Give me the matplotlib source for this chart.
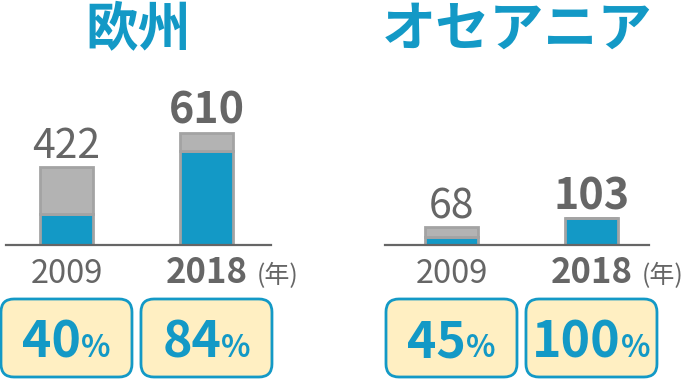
import matplotlib
matplotlib.use("Agg")
import matplotlib.pyplot as plt
from matplotlib.patches import FancyBboxPatch

plt.rcParams["font.family"] = ["Noto Sans CJK JP", "DejaVu Sans"]

# --- datos ---
regiones = ["欧州", "オセアニア"]
anios = ["2009", "2018"]
total_eu = [422, 610]
total_oc = [68, 103]
pct_eu = [40, 84]
pct_oc = [45, 100]

AZUL = "#1399C6"
GRIS = "#B3B3B3"
BORDE = "#A3A3A3"
TEXTO = "#666666"
CAJA = "#FFEFC2"

fig = plt.figure(figsize=(6.9, 3.83), dpi=100)
W, H = 690, 383

# axes de barras (pixeles: izquierda, ancho, xlim, ylim superior, centro titulo, tamaño titulo)
paneles = [
    (regiones[0], total_eu, pct_eu, 6, 265, (-0.432, 1.461), 650, 138, 38),
    (regiones[1], total_oc, pct_oc, 385, 264, (-0.475, 1.411), 460, 517, 39),
]
base_px = 138      # linea base desde abajo
alto_px = 119.6

# overlay en pixeles para las cajas de %
ov = fig.add_axes([0, 0, 1, 1])
ov.set_xlim(0, W)
ov.set_ylim(H, 0)
ov.axis("off")

renderer = fig.canvas.get_renderer()

for nombre, totales, pcts, x0, ancho, xlim, ytop, xtit, ftit in paneles:
    ax = fig.add_axes([x0 / W, base_px / H, ancho / W, alto_px / H])
    xs = [0, 1]
    azul = [t * p / 100 for t, p in zip(totales, pcts)]
    resto = [t - a for t, a in zip(totales, azul)]
    ax.bar(xs, azul, width=0.379, color=AZUL, edgecolor=BORDE, lw=2)
    ax.bar(xs, resto, bottom=azul, width=0.379, color=GRIS, edgecolor=BORDE, lw=2)
    ax.set_xlim(*xlim)
    ax.set_ylim(0, ytop)
    for s in ["top", "right", "left"]:
        ax.spines[s].set_visible(False)
    ax.spines["bottom"].set_color(TEXTO)
    ax.spines["bottom"].set_linewidth(1.6)
    ax.set_xticks([])
    ax.set_yticks([])
    ax.patch.set_alpha(0)

    for i, (x, t) in enumerate(zip(xs, totales)):
        negrita = i == 1
        ax.annotate(f"{t}", (x, t), xytext=(0, 6.5), textcoords="offset points",
                    ha="center", va="baseline", fontsize=31 if negrita else 29.5,
                    color=TEXTO, fontweight="bold" if negrita else "normal")
        ta = ax.annotate(anios[i], (x, 0), xytext=(0, -27.4), textcoords="offset points",
                         ha="center", va="baseline", fontsize=25 if negrita else 23.5,
                         color=TEXTO, fontweight="bold" if negrita else "normal")
        if negrita:
            ax.annotate("(年)", xy=(1, 0), xycoords=(ta, ax.transData),
                        xytext=(7, -27.4), textcoords="offset points",
                        ha="left", va="baseline", fontsize=18, color=TEXTO)

    fig.text(xtit / W, 1 - 30 / H, nombre, ha="center", va="center",
             fontsize=ftit, fontweight="bold", color=AZUL)

    # cajas de porcentaje
    for x, p in zip(xs, pcts):
        cx = x0 + (x - xlim[0]) / (xlim[1] - xlim[0]) * ancho
        bw, bh, r = 131, 78, 13
        caja = FancyBboxPatch((cx - bw / 2 + r, 299 + r), bw - 2 * r, bh - 2 * r,
                              boxstyle=f"round,pad={r}", facecolor=CAJA,
                              edgecolor=AZUL, lw=2)
        ov.add_patch(caja)
        tn = ov.text(0, 357, f"{p}", ha="left", va="baseline", fontsize=36,
                     fontweight="bold", color=AZUL)
        tp = ov.text(0, 357, "%", ha="left", va="baseline", fontsize=22,
                     fontweight="bold", color=AZUL)
        wn = tn.get_window_extent(renderer).width
        wp = tp.get_window_extent(renderer).width
        izq = cx - (wn + wp) / 2
        tn.set_x(izq)
        tp.set_x(izq + wn)

fig.savefig("out.png", dpi=100, facecolor="white")
